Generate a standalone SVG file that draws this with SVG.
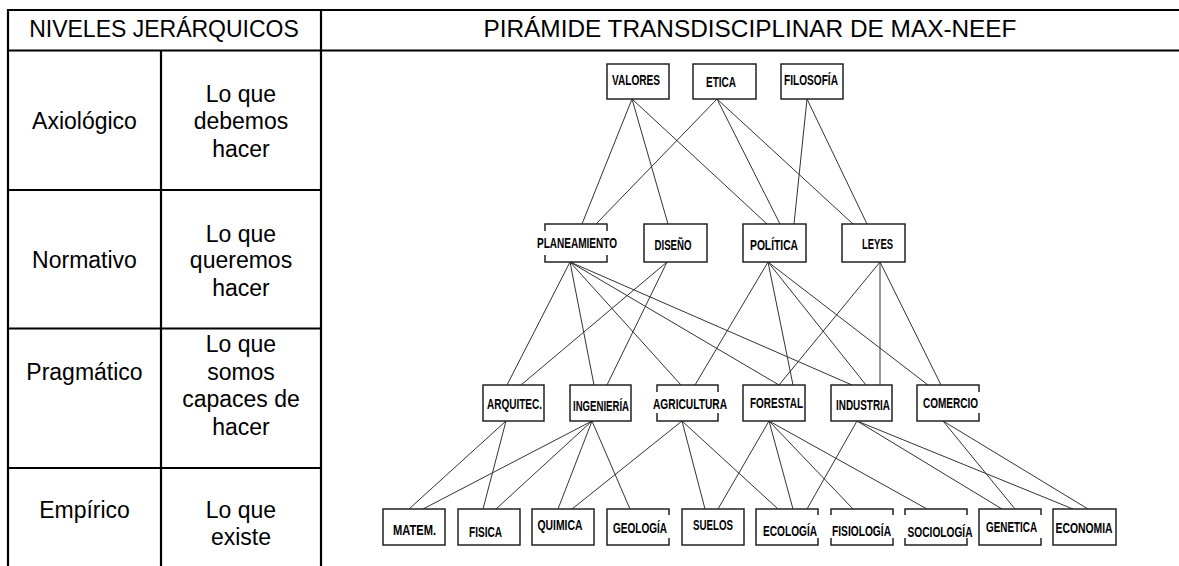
<svg xmlns="http://www.w3.org/2000/svg" width="1179" height="566" viewBox="0 0 1179 566">
<style>
.tb{stroke:#000;stroke-width:2.2;fill:none}
.ct{font-family:"Liberation Sans",Arial,sans-serif;font-size:23px;text-anchor:middle;fill:#000}
.ttl{font-family:"Liberation Sans",Arial,sans-serif;font-size:24px;text-anchor:middle;fill:#000}
.box{fill:#fff;stroke:#222;stroke-width:1.5}
.mask{fill:#fff;stroke:none}
.lbl{font-family:"Liberation Sans",Arial,sans-serif;font-weight:bold;font-size:15px;text-anchor:middle;fill:#000}
.cn line{stroke:#333;stroke-width:1}
</style>
<rect width="1179" height="566" fill="#fff"/>
<g id="table">
<path class="tb" d="M8,567 V10 H1181 M8,50.5 H1181 M161,50.5 V567 M321,10 V567 M8,190 H321 M8,328.5 H321 M8,468 H321"/>
<text class="ct" x="164" y="37">NIVELES JERÁRQUICOS</text>
<text class="ttl" x="750" y="37" textLength="533" lengthAdjust="spacingAndGlyphs">PIRÁMIDE TRANSDISCIPLINAR DE MAX-NEEF</text>
<text class="ct" x="84.5" y="128.5">Axiológico</text>
<text class="ct" x="241" y="101.7">Lo que</text>
<text class="ct" x="241" y="129.3">debemos</text>
<text class="ct" x="241" y="156.7">hacer</text>
<text class="ct" x="84.5" y="268.3">Normativo</text>
<text class="ct" x="241" y="241.7">Lo que</text>
<text class="ct" x="241" y="268.3">queremos</text>
<text class="ct" x="241" y="296">hacer</text>
<text class="ct" x="84.5" y="380">Pragmático</text>
<text class="ct" x="241" y="351.7">Lo que</text>
<text class="ct" x="241" y="380">somos</text>
<text class="ct" x="241" y="407.3">capaces de</text>
<text class="ct" x="241" y="435">hacer</text>
<text class="ct" x="84.5" y="518.3">Empírico</text>
<text class="ct" x="241" y="518.3">Lo que</text>
<text class="ct" x="241" y="545">existe</text>
</g>
<g id="connectors" class="cn">
<line x1="632" y1="99" x2="582" y2="224"/>
<line x1="632" y1="99" x2="668" y2="224"/>
<line x1="632" y1="99" x2="767" y2="224"/>
<line x1="717" y1="99" x2="596" y2="224"/>
<line x1="717" y1="99" x2="780" y2="224"/>
<line x1="717" y1="99" x2="853" y2="224"/>
<line x1="807" y1="99" x2="794" y2="224"/>
<line x1="807" y1="99" x2="867" y2="224"/>
<line x1="570" y1="262" x2="507" y2="385"/>
<line x1="570" y1="262" x2="594" y2="385"/>
<line x1="570" y1="262" x2="681" y2="385"/>
<line x1="570" y1="262" x2="779" y2="385"/>
<line x1="570" y1="262" x2="852" y2="385"/>
<line x1="667" y1="262" x2="521" y2="385"/>
<line x1="667" y1="262" x2="607" y2="385"/>
<line x1="768" y1="262" x2="695" y2="385"/>
<line x1="768" y1="262" x2="793" y2="385"/>
<line x1="768" y1="262" x2="866" y2="385"/>
<line x1="768" y1="262" x2="928" y2="385"/>
<line x1="880" y1="262" x2="779" y2="385"/>
<line x1="880" y1="262" x2="880" y2="385"/>
<line x1="880" y1="262" x2="941" y2="385"/>
<line x1="506" y1="421" x2="409" y2="509"/>
<line x1="506" y1="421" x2="483" y2="509"/>
<line x1="592" y1="421" x2="423" y2="509"/>
<line x1="592" y1="421" x2="496" y2="509"/>
<line x1="592" y1="421" x2="558" y2="509"/>
<line x1="592" y1="421" x2="630" y2="509"/>
<line x1="682" y1="421" x2="572" y2="509"/>
<line x1="682" y1="421" x2="705" y2="509"/>
<line x1="682" y1="421" x2="778" y2="509"/>
<line x1="769" y1="421" x2="718" y2="509"/>
<line x1="769" y1="421" x2="793" y2="509"/>
<line x1="769" y1="421" x2="853" y2="509"/>
<line x1="769" y1="421" x2="927" y2="509"/>
<line x1="857" y1="421" x2="807" y2="509"/>
<line x1="857" y1="421" x2="1002" y2="509"/>
<line x1="857" y1="421" x2="1073" y2="509"/>
<line x1="943" y1="421" x2="1015" y2="509"/>
<line x1="943" y1="421" x2="1088" y2="509"/>
</g>
<g id="valores"><rect class="box" x="607" y="64" width="62" height="35"/><text class="lbl" transform="translate(636,85) scale(0.66,1)" textLength="72.7" lengthAdjust="spacingAndGlyphs">VALORES</text></g>
<g id="etica"><rect class="box" x="693" y="64" width="63" height="35"/><text class="lbl" transform="translate(721,87) scale(0.66,1)" textLength="45.5" lengthAdjust="spacingAndGlyphs">ETICA</text></g>
<g id="filosofia"><rect class="box" x="781" y="64" width="62" height="35"/><text class="lbl" transform="translate(811,85) scale(0.66,1)" textLength="81.8" lengthAdjust="spacingAndGlyphs">FILOSOFÍA</text></g>
<g id="planeamiento"><rect class="box" x="545" y="224" width="62" height="38"/><rect class="mask" x="543" y="231" width="66" height="24"/><text class="lbl" transform="translate(577,248) scale(0.66,1)" textLength="121.2" lengthAdjust="spacingAndGlyphs">PLANEAMIENTO</text></g>
<g id="diseno"><rect class="box" x="644" y="224" width="63" height="38"/><text class="lbl" transform="translate(673,250) scale(0.66,1)" textLength="56.1" lengthAdjust="spacingAndGlyphs">DISEÑO</text></g>
<g id="politica"><rect class="box" x="743" y="224" width="63" height="38"/><text class="lbl" transform="translate(774,250) scale(0.66,1)" textLength="72.7" lengthAdjust="spacingAndGlyphs">POLÍTICA</text></g>
<g id="leyes"><rect class="box" x="842" y="224" width="63" height="38"/><text class="lbl" transform="translate(877.5,249) scale(0.66,1)" textLength="47" lengthAdjust="spacingAndGlyphs">LEYES</text></g>
<g id="arquitec"><rect class="box" x="483" y="385" width="61" height="36"/><text class="lbl" transform="translate(514.5,409) scale(0.66,1)" textLength="83.3" lengthAdjust="spacingAndGlyphs">ARQUITEC.</text></g>
<g id="ingenieria"><rect class="box" x="570" y="385" width="61" height="36"/><text class="lbl" transform="translate(601,411) scale(0.66,1)" textLength="84.8" lengthAdjust="spacingAndGlyphs">INGENIERÍA</text></g>
<g id="agricultura"><rect class="box" x="657" y="385" width="61" height="36"/><rect class="mask" x="655" y="392" width="65" height="21"/><text class="lbl" transform="translate(690,409) scale(0.66,1)" textLength="112.1" lengthAdjust="spacingAndGlyphs">AGRICULTURA</text></g>
<g id="forestal"><rect class="box" x="743" y="385" width="62" height="36"/><text class="lbl" transform="translate(776.5,408) scale(0.66,1)" textLength="80.3" lengthAdjust="spacingAndGlyphs">FORESTAL</text></g>
<g id="industria"><rect class="box" x="831" y="385" width="61" height="36"/><text class="lbl" transform="translate(863,410) scale(0.66,1)" textLength="81.8" lengthAdjust="spacingAndGlyphs">INDUSTRIA</text></g>
<g id="comercio"><rect class="box" x="917" y="385" width="62" height="36"/><rect class="mask" x="975" y="392" width="6" height="21"/><text class="lbl" transform="translate(950.5,408) scale(0.66,1)" textLength="83.3" lengthAdjust="spacingAndGlyphs">COMERCIO</text></g>
<g id="matem"><rect class="box" x="383" y="509" width="62" height="36"/><text class="lbl" transform="translate(414.5,535) scale(0.66,1)" textLength="65.2" lengthAdjust="spacingAndGlyphs">MATEM.</text></g>
<g id="fisica"><rect class="box" x="458" y="509" width="62" height="36"/><text class="lbl" transform="translate(485.5,537) scale(0.66,1)" textLength="50" lengthAdjust="spacingAndGlyphs">FISICA</text></g>
<g id="quimica"><rect class="box" x="532" y="509" width="62" height="36"/><text class="lbl" transform="translate(560,530) scale(0.66,1)" textLength="68.2" lengthAdjust="spacingAndGlyphs">QUIMICA</text></g>
<g id="geologia"><rect class="box" x="607" y="509" width="62" height="36"/><rect class="mask" x="665" y="515" width="6" height="23"/><text class="lbl" transform="translate(640,533) scale(0.66,1)" textLength="81.8" lengthAdjust="spacingAndGlyphs">GEOLOGÍA</text></g>
<g id="suelos"><rect class="box" x="682" y="509" width="62" height="36"/><text class="lbl" transform="translate(713,530) scale(0.66,1)" textLength="60.6" lengthAdjust="spacingAndGlyphs">SUELOS</text></g>
<g id="ecologia"><rect class="box" x="756" y="509" width="62" height="36"/><rect class="mask" x="814" y="515" width="6" height="23"/><text class="lbl" transform="translate(790,536) scale(0.66,1)" textLength="81.8" lengthAdjust="spacingAndGlyphs">ECOLOGÍA</text></g>
<g id="fisiologia"><rect class="box" x="831" y="509" width="62" height="36"/><rect class="mask" x="829" y="515" width="66" height="23"/><text class="lbl" transform="translate(861.5,536) scale(0.66,1)" textLength="89.4" lengthAdjust="spacingAndGlyphs">FISIOLOGÍA</text></g>
<g id="sociologia"><rect class="box" x="905" y="509" width="62" height="36"/><rect class="mask" x="903" y="515" width="66" height="23"/><text class="lbl" transform="translate(940,537) scale(0.66,1)" textLength="98.5" lengthAdjust="spacingAndGlyphs">SOCIOLOGÍA</text></g>
<g id="genetica"><rect class="box" x="979" y="509" width="62" height="36"/><rect class="mask" x="1037" y="515" width="6" height="23"/><text class="lbl" transform="translate(1011.5,532) scale(0.66,1)" textLength="77.3" lengthAdjust="spacingAndGlyphs">GENETICA</text></g>
<g id="economia"><rect class="box" x="1053" y="509" width="63" height="36"/><text class="lbl" transform="translate(1084,533) scale(0.66,1)" textLength="86.4" lengthAdjust="spacingAndGlyphs">ECONOMIA</text></g>
</svg>
